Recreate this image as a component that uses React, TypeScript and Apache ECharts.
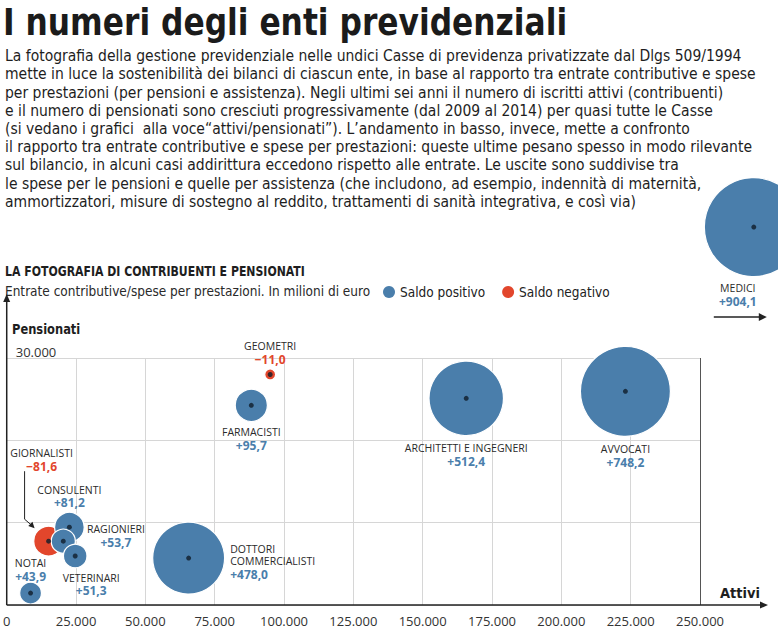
import React, { useEffect, useRef } from 'react';
import * as echarts from 'echarts';

// ---- Data ----
const categories = [
  'NOTAI',
  'GIORNALISTI',
  'CONSULENTI',
  'RAGIONIERI',
  'VETERINARI',
  'DOTTORI\nCOMMERCIALISTI',
  'FARMACISTI',
  'GEOMETRI',
  'ARCHITETTI E INGEGNERI',
  'AVVOCATI',
  'MEDICI',
];
// iscritti attivi (x)
const attivi = [8600, 15100, 22600, 20400, 24700, 65600, 88200, 95000, 165700, 223100, 269400];
// pensionati (y)
const pensionati = [1450, 7750, 9450, 7750, 5950, 5700, 24250, 28000, 25100, 25950, 45900];
// saldo entrate contributive / spese per prestazioni, milioni di euro
const saldo = [43.9, -81.6, 81.2, 53.7, 51.3, 478.0, 95.7, -11.0, 512.4, 748.2, 904.1];

const xMax = 250000;
const xInterval = 25000;
const yMax = 30000;
const yInterval = 10000;

const title = 'I numeri degli enti previdenziali';
const bodyLines = [
  'La fotografia della gestione previdenziale nelle undici Casse di previdenza privatizzate dal Dlgs 509/1994',
  'mette in luce la sostenibilità dei bilanci di ciascun ente, in base al rapporto tra entrate contributive e spese',
  'per prestazioni (per pensioni e assistenza). Negli ultimi sei anni il numero di iscritti attivi (contribuenti)',
  'e il numero di pensionati sono cresciuti progressivamente (dal 2009 al 2014) per quasi tutte le Casse',
  '(si vedano i grafici  alla voce“attivi/pensionati”). L’andamento in basso, invece, mette a confronto',
  'il rapporto tra entrate contributive e spese per prestazioni: queste ultime pesano spesso in modo rilevante',
  'sul bilancio, in alcuni casi addirittura eccedono rispetto alle entrate. Le uscite sono suddivise tra',
  'le spese per le pensioni e quelle per assistenza (che includono, ad esempio, indennità di maternità,',
  'ammortizzatori, misure di sostegno al reddito, trattamenti di sanità integrativa, e così via)',
];
const heading = 'LA FOTOGRAFIA DI CONTRIBUENTI E PENSIONATI';
const subtitle = 'Entrate contributive/spese per prestazioni. In milioni di euro';
const legendNames = ['Saldo positivo', 'Saldo negativo'];
const yName = 'Pensionati';
const xName = 'Attivi';

// ---- Styles ----
const BLUE = '#4a7eab';
const RED = '#e2462c';
const DOT = '#0f1d2b';
const COND = '"Liberation Sans Narrow","DejaVu Sans Condensed","Noto Sans",sans-serif';
const LBL = '"Open Sans","Noto Sans",sans-serif';

const labelLayout: Record<string, any> = {
  NOTAI: { position: 'top', distance: -2 },
  GIORNALISTI: { position: 'top', distance: 52, offset: [-7, 0] },
  CONSULENTI: { position: 'top', distance: 2 },
  RAGIONIERI: { position: 'right', distance: 40, align: 'center', offset: [0, -5] },
  VETERINARI: { position: 'bottom', distance: 3, offset: [16, 0] },
  'DOTTORI\nCOMMERCIALISTI': { position: 'right', distance: 5, align: 'left', offset: [0, 4] },
  FARMACISTI: { position: 'bottom', distance: 4 },
  GEOMETRI: { position: 'top', distance: 2 },
  'ARCHITETTI E INGEGNERI': { position: 'bottom', distance: 6 },
  AVVOCATI: { position: 'bottom', distance: 6 },
  MEDICI: { position: 'bottom', distance: 5, offset: [-16, 0] },
};

const fmtSaldo = (v: number) =>
  (v >= 0 ? '+' : '−') + Math.abs(v).toFixed(1).replace('.', ',');
const fmtNum = (v: number) => String(v).replace(/\B(?=(\d{3})+(?!\d))/g, '.');

function buildItems(sign: number) {
  const out: any[] = [];
  categories.forEach((c, i) => {
    if ((saldo[i] < 0 ? -1 : 1) !== sign) return;
    out.push({
      name: c,
      value: [attivi[i], pensionati[i], saldo[i]],
      label: { ...labelLayout[c] },
    });
  });
  return out;
}

function labelFormatter(p: any) {
  const lines = String(p.name)
    .split('\n')
    .map((l: string) => `{n|${l}}`)
    .join('\n');
  return `${lines}\n{v|${fmtSaldo(p.value[2])}}`;
}

function bubbleSeries(name: string, sign: number, color: string, z: number) {
  return {
    name,
    type: 'scatter',
    clip: false,
    z,
    data: buildItems(sign),
    symbolSize: (val: number[]) => 3.29 * Math.sqrt(Math.abs(val[2])),
    itemStyle: { color, borderColor: '#ffffff', borderWidth: 1.2, opacity: 1 },
    emphasis: { disabled: true },
    label: {
      show: true,
      formatter: labelFormatter,
      rich: {
        n: { fontSize: 10.5, color: '#2a2a2a', fontFamily: LBL, lineHeight: 12.5 },
        v: { fontSize: 12, fontWeight: 'bold', color, fontFamily: LBL, lineHeight: 14 },
      },
    },
  };
}

export default function App() {
  const ref = useRef<HTMLDivElement>(null);

  useEffect(() => {
    document.body.style.margin = '0';
    if (!ref.current) return;
    const chart = echarts.init(ref.current, undefined, { renderer: 'svg' });

    const option: any = {
      animation: false,
      backgroundColor: '#ffffff',
      grid: { left: 5, right: 78, top: 358, bottom: 24, containLabel: false },
      legend: {
        data: legendNames,
        left: 378,
        top: 280,
        padding: 5,
        icon: 'circle',
        itemWidth: 12,
        itemHeight: 12,
        itemGap: 17,
        itemStyle: { borderWidth: 0 },
        selectedMode: false,
        textStyle: { fontSize: 13.5, color: '#222', fontFamily: COND },
      },
      xAxis: {
        type: 'value',
        min: 0,
        max: xMax,
        interval: xInterval,
        axisLine: { show: false },
        axisTick: { show: false },
        axisLabel: {
          formatter: (v: number) => fmtNum(v),
          fontSize: 13,
          color: '#333',
          fontFamily: LBL,
          margin: 9,
        },
        splitLine: { show: true, lineStyle: { color: '#d6d6d6', width: 1 } },
      },
      yAxis: {
        type: 'value',
        min: 0,
        max: yMax,
        interval: yInterval,
        axisLine: { show: false },
        axisTick: { show: false },
        axisLabel: {
          inside: true,
          formatter: (v: number) => (v === yMax ? fmtNum(v) : ''),
          verticalAlign: 'bottom',
          margin: 9,
          fontSize: 13,
          color: '#333',
          fontFamily: LBL,
        },
        splitLine: { show: true, lineStyle: { color: '#d6d6d6', width: 1 } },
      },
      series: [
        bubbleSeries(legendNames[1], -1, RED, 3),
        bubbleSeries(legendNames[0], 1, BLUE, 4),
        {
          name: 'centri',
          type: 'scatter',
          clip: false,
          z: 5,
          silent: true,
          symbolSize: 5,
          itemStyle: { color: DOT },
          data: categories.map((c, i) => ({ name: c, value: [attivi[i], pensionati[i]] })),
          markLine: {
            silent: true,
            symbol: ['none', 'none'],
            label: { show: false },
            lineStyle: { color: '#555', width: 1, type: 'solid' },
            data: [{ xAxis: xMax }],
          },
        },
      ],
    };
    chart.setOption(option);

    // annotation positions derived from the chart's own scale
    const toPx = (x: number, y: number) => chart.convertToPixel({ gridIndex: 0 }, [x, y]) as number[];
    const o = toPx(0, 0);
    const topY = toPx(0, yMax)[1];
    const gi = categories.indexOf('GIORNALISTI');
    const g = toPx(attivi[gi], pensionati[gi]);
    const mi = categories.indexOf('MEDICI');
    const m = toPx(attivi[mi], pensionati[mi]);

    const axisColor = '#222';
    const xEnd = 766;
    const yEnd = topY - 62;
    const gTip = [g[0] - 14, g[1] - 13];
    const d = [Math.SQRT1_2, Math.SQRT1_2];
    const n = [-Math.SQRT1_2, Math.SQRT1_2];
    const ah = (tip: number[], dir: number[], nor: number[], len: number, w: number) => [
      tip,
      [tip[0] - dir[0] * len + nor[0] * w, tip[1] - dir[1] * len + nor[1] * w],
      [tip[0] - dir[0] * len - nor[0] * w, tip[1] - dir[1] * len - nor[1] * w],
    ];
    const mArrowY = m[1] + 90;

    chart.setOption({
      graphic: [
        {
          type: 'text',
          x: 3,
          y: 3,
          scaleX: 0.916,
          style: { text: title, font: `bold 38px ${COND}`, fill: '#1b1b1b' },
        },
        {
          type: 'text',
          left: 5,
          top: 47,
          style: {
            text: bodyLines.join('\n'),
            font: `15.5px ${COND}`,
            lineHeight: 18.2,
            fill: '#1e1e1e',
          },
        },
        {
          type: 'text',
          x: 5,
          y: 264,
          scaleX: 0.9,
          style: { text: heading, font: `bold 13.5px ${COND}`, fill: '#1e1e1e' },
        },
        {
          type: 'text',
          left: 5,
          top: 284,
          style: { text: subtitle, font: `13.5px ${COND}`, fill: '#2a2a2a' },
        },
        {
          type: 'text',
          x: 12,
          y: 321,
          scaleX: 0.88,
          style: { text: yName, font: `bold 14.5px ${COND}`, fill: '#1e1e1e' },
        },
        {
          type: 'text',
          x: 760,
          y: o[1] - 12,
          style: {
            text: xName,
            font: `bold 14.5px ${COND}`,
            fill: '#1e1e1e',
            align: 'right',
            verticalAlign: 'middle',
          },
        },
        // x axis arrow
        {
          type: 'line',
          shape: { x1: o[0], y1: o[1], x2: xEnd - 5, y2: o[1] },
          style: { stroke: axisColor, lineWidth: 1.5 },
          z: 10,
        },
        {
          type: 'polygon',
          shape: { points: [[xEnd + 2, o[1]], [xEnd - 6, o[1] - 3.5], [xEnd - 6, o[1] + 3.5]] },
          style: { fill: axisColor },
          z: 10,
        },
        // y axis arrow
        {
          type: 'line',
          shape: { x1: o[0], y1: o[1], x2: o[0], y2: yEnd + 5 },
          style: { stroke: axisColor, lineWidth: 1.5 },
          z: 10,
        },
        {
          type: 'polygon',
          shape: { points: [[o[0], yEnd - 2], [o[0] - 3.5, yEnd + 6], [o[0] + 3.5, yEnd + 6]] },
          style: { fill: axisColor },
          z: 10,
        },
        // Giornalisti pointer
        {
          type: 'polyline',
          shape: {
            points: [
              [g[0] - 24, g[1] - 70],
              [g[0] - 24, g[1] - 22],
              [gTip[0] - 3, gTip[1] - 3],
            ],
          },
          style: { stroke: '#222', lineWidth: 1, fill: 'none' },
          z: 10,
        },
        {
          type: 'polygon',
          shape: { points: ah(gTip, d, n, 6, 3) },
          style: { fill: '#222' },
          z: 10,
        },
        // Medici off-scale arrow
        {
          type: 'line',
          shape: { x1: m[0] - 40, y1: mArrowY, x2: m[0] + 6, y2: mArrowY },
          style: { stroke: '#222', lineWidth: 1.5 },
          z: 10,
        },
        {
          type: 'polygon',
          shape: { points: [[m[0] + 13, mArrowY], [m[0] + 5, mArrowY - 4], [m[0] + 5, mArrowY + 4]] },
          style: { fill: '#222' },
          z: 10,
        },
      ],
    });

    return () => chart.dispose();
  }, []);

  return <div ref={ref} style={{ width: 778, height: 629 }} />;
}
